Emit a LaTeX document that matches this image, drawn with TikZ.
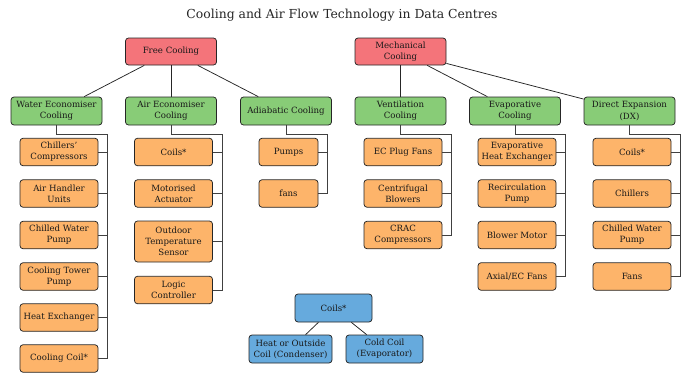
\documentclass[tikz,border=0pt]{standalone}
\usepackage{fontspec}
\setmainfont{DejaVu Serif}
\begin{document}
\begin{tikzpicture}[x=1pt,y=-1pt,
  font=\fontsize{8.6}{11.2}\selectfont,
  box/.style={draw=black!85, line width=0.75pt, rounded corners=3pt, align=center, inner sep=1pt, text=black!90},
  rootbox/.style={box, fill=redc, minimum width=91pt, minimum height=27pt},
  midbox/.style={box, fill=greenc, minimum width=91pt, minimum height=28pt},
  leafbox/.style={box, fill=orangec, minimum width=78pt, minimum height=27.5pt},
  smallbox/.style={box, fill=orangec, minimum width=59pt, minimum height=27.5pt},
  bluebox/.style={box, fill=bluec, minimum width=77pt, minimum height=28pt},
  link/.style={draw=black!85, line width=0.75pt},
  bus/.style={draw=black!75, line width=0.75pt},
]
\definecolor{redc}{HTML}{F4747A}
\definecolor{greenc}{HTML}{88CC77}
\definecolor{orangec}{HTML}{FDB46A}
\definecolor{bluec}{HTML}{66AADD}
\useasboundingbox (0,0) rectangle (686,375);

\node[font=\fontsize{12.4}{14}\selectfont, text=black!85] (title) at (342,15) {Cooling and Air Flow Technology in Data Centres};

\node[rootbox] (fc) at (171,51.5) {Free Cooling};
\node[rootbox] (mc) at (400.5,51.5) {Mechanical\\Cooling};

\node[midbox] (we) at (56.5,111) {Water Economiser\\Cooling};
\node[midbox] (ae) at (171,111) {Air Economiser\\Cooling};
\node[midbox] (ad) at (286,111) {Adiabatic Cooling};
\node[midbox] (vc) at (400.5,111) {Ventilation\\Cooling};
\node[midbox] (ec) at (515,111) {Evaporative\\Cooling};
\node[midbox] (dx) at (629.5,111) {Direct Expansion\\(DX)};

\draw[link] (fc) -- (we);
\draw[link] (fc) -- (ae);
\draw[link] (fc) -- (ad);
\draw[link] (mc) -- (vc);
\draw[link] (mc) -- (ec);
\draw[link] (mc) -- (dx);

% Water economiser column
\node[leafbox] (we1) at (59,152) {Chillers'\\Compressors};
\node[leafbox] (we2) at (59,193.5) {Air Handler\\Units};
\node[leafbox] (we3) at (59,235) {Chilled Water\\Pump};
\node[leafbox] (we4) at (59,276.5) {Cooling Tower\\Pump};
\node[leafbox] (we5) at (59,317.5) {Heat Exchanger};
\node[leafbox] (we6) at (59,358.5) {Cooling Coil*};
\coordinate (weB) at (107,134);
\foreach \i in {1,...,6} \draw[bus] (we.south) |- (weB) |- (we\i.east);

% Air economiser column
\node[leafbox] (ae1) at (173.5,152) {Coils*};
\node[leafbox] (ae2) at (173.5,193.5) {Motorised\\Actuator};
\node[leafbox, minimum height=41pt] (ae3) at (173.5,241.5) {Outdoor\\Temperature\\Sensor};
\node[leafbox] (ae4) at (173.5,290) {Logic\\Controller};
\coordinate (aeB) at (222,134);
\foreach \i in {1,...,4} \draw[bus] (ae.south) |- (aeB) |- (ae\i.east);

% Adiabatic column
\node[smallbox] (ad1) at (288.5,152) {Pumps};
\node[smallbox] (ad2) at (288.5,193.5) {fans};
\coordinate (adB) at (327,134);
\foreach \i in {1,2} \draw[bus] (ad.south) |- (adB) |- (ad\i.east);

% Ventilation column
\node[leafbox] (vc1) at (403,152) {EC Plug Fans};
\node[leafbox] (vc2) at (403,193.5) {Centrifugal\\Blowers};
\node[leafbox] (vc3) at (403,235) {CRAC\\Compressors};
\coordinate (vcB) at (451,134);
\foreach \i in {1,2,3} \draw[bus] (vc.south) |- (vcB) |- (vc\i.east);

% Evaporative column
\node[leafbox] (ec1) at (517,152) {Evaporative\\Heat Exchanger};
\node[leafbox] (ec2) at (517,193.5) {Recirculation\\Pump};
\node[leafbox] (ec3) at (517,235) {Blower Motor};
\node[leafbox] (ec4) at (517,276.5) {Axial/EC Fans};
\coordinate (ecB) at (565,134);
\foreach \i in {1,...,4} \draw[bus] (ec.south) |- (ecB) |- (ec\i.east);

% DX column
\node[leafbox] (dx1) at (632,152) {Coils*};
\node[leafbox] (dx2) at (632,193.5) {Chillers};
\node[leafbox] (dx3) at (632,235) {Chilled Water\\Pump};
\node[leafbox] (dx4) at (632,276.5) {Fans};
\coordinate (dxB) at (680,134);
\foreach \i in {1,...,4} \draw[bus] (dx.south) |- (dxB) |- (dx\i.east);

% Coils
\node[bluebox] (co) at (333.5,308) {Coils*};
\node[bluebox, minimum width=83pt] (co1) at (290.5,349) {Heat or Outside\\Coil (Condenser)};
\node[bluebox] (co2) at (384.5,349) {Cold Coil\\(Evaporator)};
\draw[link] (co) -- (co1);
\draw[link] (co) -- (co2);
\end{tikzpicture}
\end{document}
